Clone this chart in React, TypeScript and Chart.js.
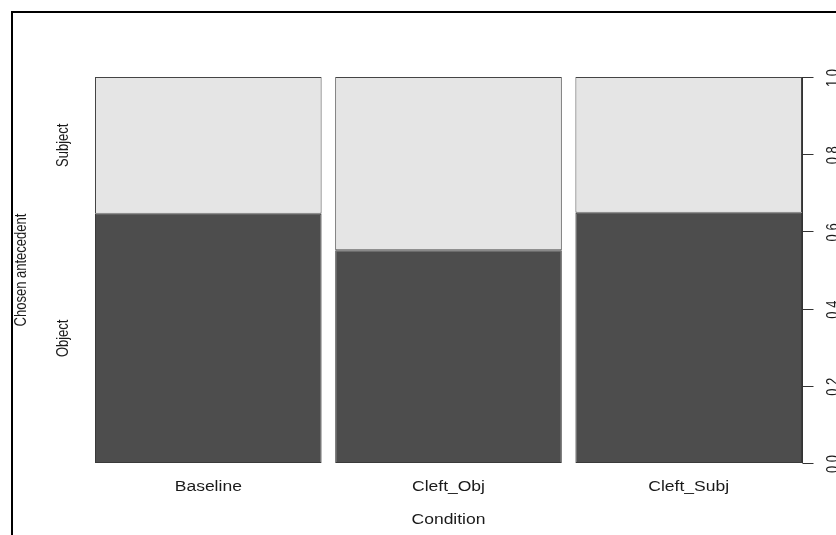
import React, { useEffect, useRef } from "react";
import { Chart, registerables } from "chart.js";

Chart.register(...registerables);

// ---- data ----
const conditions = ["Baseline", "Cleft_Obj", "Cleft_Subj"];
const conditionShare = [1, 1, 1]; // relative group sizes (spine widths)
const objectShare = [0.646, 0.551, 0.648]; // proportion "Object"
const subjectShare = [0.354, 0.449, 0.352]; // proportion "Subject"
const answerLevels = ["Object", "Subject"];
const yTickValues = [0, 0.2, 0.4, 0.6, 0.8, 1.0];
const yTickLabels = ["0.0", "0.2", "0.4", "0.6", "0.8", "1.0"];
const xTitle = "Condition";
const yTitle = "Chosen antecedent";

const GAP = 0.02;
const FONT = '"Liberation Sans", Arial, Helvetica, sans-serif';
const SX = 1.25;

function drawText(
  ctx: CanvasRenderingContext2D,
  text: string,
  x: number,
  y: number,
  size: number,
  rotate: boolean
) {
  ctx.save();
  ctx.translate(x, y);
  ctx.scale(SX, 1);
  if (rotate) ctx.rotate(-Math.PI / 2);
  ctx.font = `${size}px ${FONT}`;
  ctx.textAlign = "center";
  ctx.textBaseline = "middle";
  ctx.fillStyle = "#1a1a1a";
  ctx.fillText(text, 0, 0);
  ctx.restore();
}

export default function App() {
  const ref = useRef<HTMLCanvasElement | null>(null);

  useEffect(() => {
    if (!ref.current) return;
    const totalShare = conditionShare.reduce((a, b) => a + b, 0);
    const widths = conditionShare.map((c) => c / totalShare);
    const starts: number[] = [];
    let acc = 0;
    widths.forEach((w) => {
      starts.push(acc);
      acc += w + GAP;
    });
    const xMax = acc - GAP;
    const centers = widths.map((w, i) => starts[i] + w / 2);
    const barPct = widths[0] / (widths[0] + GAP);

    const overlay = {
      id: "spineOverlay",
      afterDraw(chart: any) {
        const ctx: CanvasRenderingContext2D = chart.ctx;
        const area = chart.chartArea;
        const xs = chart.scales.x;
        const ys = chart.scales.y;
        // frame
        ctx.save();
        ctx.strokeStyle = "#000";
        ctx.lineWidth = 2;
        ctx.beginPath();
        ctx.moveTo(12, 600);
        ctx.lineTo(12, 12);
        ctx.lineTo(900, 12);
        ctx.stroke();
        ctx.restore();
        // right axis
        const axX = Math.round(area.right) + 0.5;
        ctx.save();
        ctx.strokeStyle = "#333";
        ctx.lineWidth = 1;
        ctx.beginPath();
        ctx.moveTo(axX, ys.getPixelForValue(yTickValues[0]));
        ctx.lineTo(axX, ys.getPixelForValue(yTickValues[yTickValues.length - 1]));
        yTickValues.forEach((v) => {
          const py = Math.round(ys.getPixelForValue(v)) + 0.5;
          ctx.moveTo(axX, py);
          ctx.lineTo(axX + 11, py);
        });
        ctx.stroke();
        ctx.restore();
        yTickValues.forEach((v, i) => {
          drawText(ctx, yTickLabels[i], area.right + 32, ys.getPixelForValue(v) + 1, 13, true);
        });
        // category labels
        conditions.forEach((c, i) => {
          drawText(ctx, c, xs.getPixelForValue(centers[i]), 487, 14, false);
        });
        drawText(ctx, xTitle, (area.left + area.right) / 2, 520, 14, false);
        // level labels at first spine
        const yObj = (ys.getPixelForValue(0) + ys.getPixelForValue(objectShare[0])) / 2;
        const ySub = (ys.getPixelForValue(objectShare[0]) + ys.getPixelForValue(1)) / 2;
        drawText(ctx, answerLevels[0], 64, yObj, 13, true);
        drawText(ctx, answerLevels[1], 64, ySub, 13, true);
        drawText(ctx, yTitle, 22, (area.top + area.bottom) / 2, 13, true);
      },
    };

    const chart = new Chart(ref.current, {
      type: "bar",
      data: {
        datasets: [
          {
            label: answerLevels[0],
            data: conditions.map((_, i) => ({ x: centers[i], y: [0, objectShare[i]] })) as any,
            backgroundColor: "#4D4D4D",
            borderColor: "#3a3a3a",
            borderWidth: 1,
            borderSkipped: false,
            grouped: false,
            barPercentage: barPct,
            categoryPercentage: 1,
          },
          {
            label: answerLevels[1],
            data: conditions.map((_, i) => ({
              x: centers[i],
              y: [objectShare[i], objectShare[i] + subjectShare[i]],
            })) as any,
            backgroundColor: "#E5E5E5",
            borderColor: "#444",
            borderWidth: 1,
            borderSkipped: false,
            grouped: false,
            barPercentage: barPct,
            categoryPercentage: 1,
          },
        ],
      },
      options: {
        animation: false,
        responsive: false,
        maintainAspectRatio: false,
        layout: { padding: { left: 95, right: 34, top: 77, bottom: 72 } },
        plugins: { legend: { display: false }, tooltip: { enabled: false } },
        scales: {
          x: {
            type: "linear",
            min: 0,
            max: xMax,
            offset: false,
            display: false,
            afterBuildTicks: (scale: any) => {
              scale.ticks = [{ value: 0 }, { value: xMax }];
            },
          },
          y: { type: "linear", min: 0, max: 1, display: false },
        },
      },
      plugins: [overlay],
    });
    return () => chart.destroy();
  }, []);

  return (
    <div style={{ position: "fixed", left: 0, top: 0, width: 836, height: 535, background: "#fff" }}>
      <canvas ref={ref} width={836} height={535} style={{ width: 836, height: 535, display: "block" }} />
    </div>
  );
}
